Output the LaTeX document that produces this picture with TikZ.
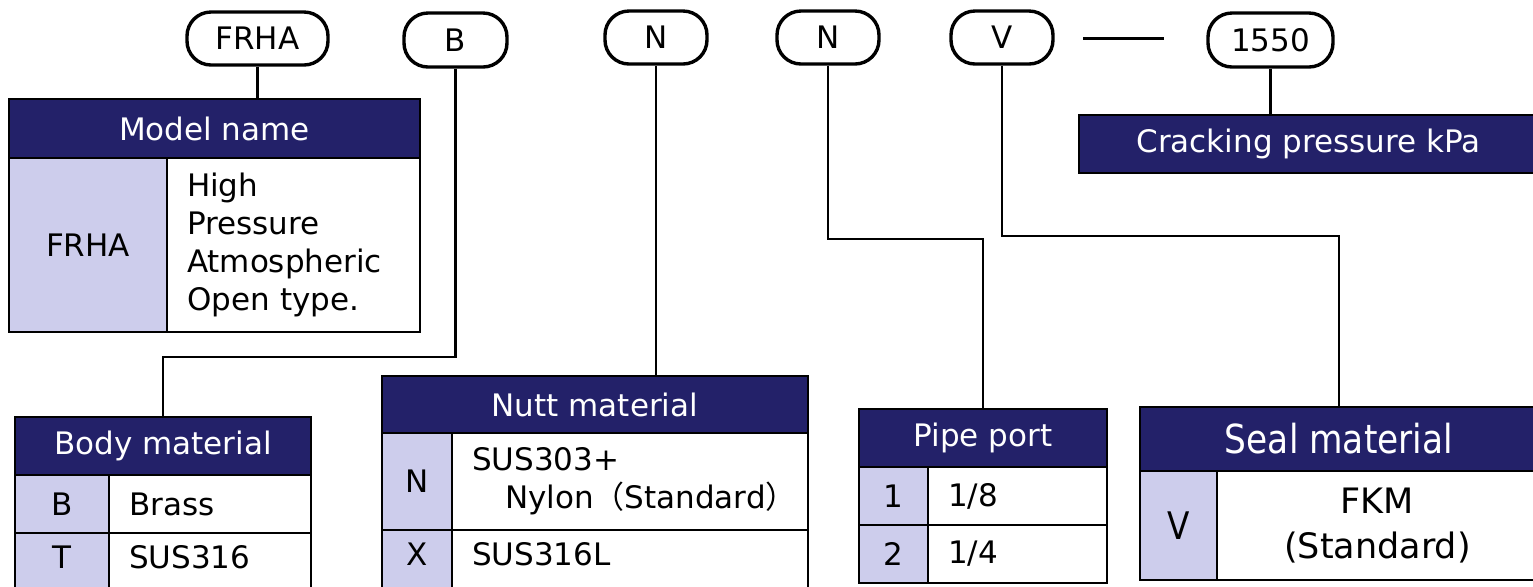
\documentclass[tikz,border=0pt]{standalone}
\usepackage{fontspec}
\setmainfont{DejaVu Sans}
\newfontfamily\sealfont{DejaVu Sans}[FakeStretch=0.86]
\newfontfamily\cjkfont{Noto Sans CJK JP}
\usepackage{tikz}
\usetikzlibrary{positioning, calc}
\definecolor{headnavy}{RGB}{35, 33, 105}
\definecolor{celllav}{RGB}{205, 205, 236}
\tikzset{
  leadline/.style={line width=1.1pt, black},
  hyphenline/.style={line width=1.5pt, black}
}

\begin{document}
\begin{tikzpicture}[x=0.5pt, y=-0.5pt,
    codepill/.style={rectangle, draw, line width=1.7pt, rounded corners=12pt, fill=white, inner sep=0pt, minimum height=26.5pt, font=\fontsize{15.5}{18}\selectfont},
    headbox/.style={rectangle, draw, line width=1.35pt, fill=headnavy, text=white, inner sep=0pt, minimum height=29pt, font=\fontsize{15.5}{18}\selectfont},
    keybox/.style={rectangle, draw, line width=1.35pt, fill=celllav, inner sep=0pt, minimum height=29pt, font=\fontsize{15.5}{18}\selectfont},
    valbox/.style={rectangle, draw, line width=1.35pt, fill=white, inner xsep=10pt, inner ysep=0pt, align=left, minimum height=29pt, font=\fontsize{15.5}{19}\selectfont},
    lowrow/.style={text height=11pt, text depth=5pt}
]
    \useasboundingbox (0,0) rectangle (1533,586);

    % Part number code
    \node[codepill, minimum width=70.5pt] (pFRHA) at (257.5,38.5) {FRHA};
    \node[codepill, minimum width=51.5pt, minimum height=27pt] (pB) at (455.5,40) {B};
    \node[codepill, minimum width=51pt] (pN1) at (656,37.5) {N};
    \node[codepill, minimum width=51pt] (pN2) at (828,37.5) {N};
    \node[codepill, minimum width=51pt] (pV) at (1002,37.5) {V};
    \node[codepill, minimum width=62.5pt, minimum height=27pt] (p1550) at (1270.5,40) {1550};
    \coordinate (hyphenL) at (1083,38);
    \coordinate (hyphenR) at (1164,38);
    \draw[hyphenline] (hyphenL) -- (hyphenR);

    % Model name
    \node[headbox, minimum width=205.5pt, minimum height=29.5pt] (hModel) at (214.5,128.5) {Model name};
    \node[keybox, minimum width=79pt, minimum height=87pt] (kModel) at (88,245) {FRHA};
    \node[valbox, text width=106.5pt, minimum height=87pt] (vModel) at (293.5,245) {High\\Pressure\\Atmospheric\\Open type.};

    % Body material
    \node[headbox, minimum width=148pt] (hBody) at (163,446) {Body material};
    \node[keybox, minimum width=47pt] (kBodyB) at (62,504) {B};
    \node[valbox, text width=81pt] (vBodyB) at (210,504) {Brass};
    \node[keybox, lowrow, minimum width=47pt] (kBodyT) at (62,562) {T};
    \node[valbox, lowrow, text width=81pt] (vBodyT) at (210,562) {SUS316};

    % Nutt material
    \node[headbox, minimum width=213pt, minimum height=28.5pt] (hNutt) at (595,404.5) {Nutt material};
    \node[keybox, minimum width=35pt, minimum height=48.5pt] (kNuttN) at (417,481.5) {N};
    \node[valbox, text width=158pt, minimum height=48.5pt] (vNuttN) at (630,481.5) {SUS303+\\\mbox{\hspace*{16.5pt}Nylon{\cjkfont （}Standard{\cjkfont ）}}};
    \node[keybox, lowrow, minimum width=35pt] (kNuttX) at (417,559) {X};
    \node[valbox, lowrow, text width=158pt] (vNuttX) at (630,559) {SUS316L};

    % Pipe port
    \node[headbox, minimum width=124pt] (hPipe) at (983,438) {Pipe port};
    \node[keybox, minimum width=34.5pt] (kPipe1) at (893.5,496) {1};
    \node[valbox, text width=69.5pt] (vPipe1) at (1017.5,496) {1/8};
    \node[keybox, minimum width=34.5pt] (kPipe2) at (893.5,554) {2};
    \node[valbox, text width=69.5pt] (vPipe2) at (1017.5,554) {1/4};

    % Seal material
    \node[headbox, minimum width=199pt, minimum height=32pt, font=\sealfont\fontsize{20}{22}\selectfont] (hSeal) at (1339,439) {Seal material};
    \node[keybox, minimum width=38.5pt, minimum height=54.5pt, font=\sealfont\fontsize{19}{22}\selectfont] (kSealV) at (1178.5,525.5) {V};
    \node[valbox, align=center, minimum width=160.5pt, minimum height=54.5pt, font=\fontsize{17.5}{22.5}\selectfont] (vSealV) at (1377.5,525.5) {FKM\\(Standard)};

    % Cracking pressure
    \node[headbox, minimum width=229.5pt] (hCrack) at (1308.5,144) {Cracking pressure kPa};

    % Lead lines
    \coordinate (kinkB) at (300,357);
    \coordinate (kinkN) at (900,239);
    \coordinate (kinkV) at (1100,236);
    \draw[leadline] (pFRHA.south) -- (pFRHA.south |- hModel.north);
    \draw[leadline] (pB.south) |- (kinkB) -| (hBody.north);
    \draw[leadline] (pN1.south) -- (pN1.south |- hNutt.north);
    \draw[leadline] (pN2.south) |- (kinkN) -| (hPipe.north);
    \draw[leadline] (pV.south) |- (kinkV) -| (hSeal.north);
    \draw[leadline] (p1550.south) -- (p1550.south |- hCrack.north);
\end{tikzpicture}
\end{document}
